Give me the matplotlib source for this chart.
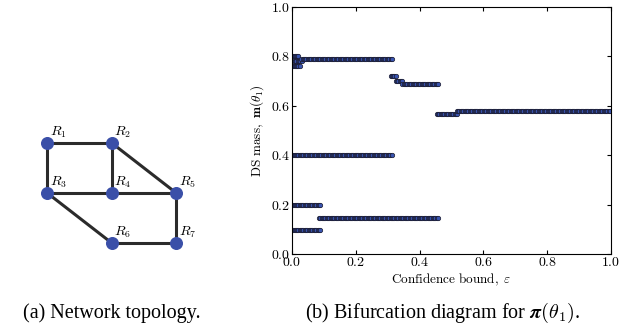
import numpy as np
import matplotlib
matplotlib.use("Agg")
import matplotlib.pyplot as plt

plt.rcParams["mathtext.fontset"] = "cm"
plt.rcParams["font.family"] = ["Liberation Serif", "DejaVu Serif"]

# --- данные: топология сети ---
node_names = ["R1", "R2", "R3", "R4", "R5", "R6", "R7"]
node_x = [0, 1, 0, 1, 2, 1, 2]
node_y = [2, 2, 1, 1, 1, 0, 0]
edges = [("R1", "R2"), ("R1", "R3"), ("R2", "R4"), ("R2", "R5"),
         ("R3", "R4"), ("R4", "R5"), ("R3", "R6"), ("R6", "R7"),
         ("R5", "R7")]

# --- данные: диаграмма бифуркации (начало, конец, уровень) ---
seg_start = [0.000, 0.006, 0.029, 0.000, 0.309, 0.325, 0.346, 0.454, 0.517,
             0.000, 0.000, 0.085, 0.000]
seg_end = [0.022, 0.032, 0.314, 0.026, 0.326, 0.348, 0.458, 0.519, 1.000,
           0.315, 0.088, 0.458, 0.088]
seg_level = [0.800, 0.780, 0.789, 0.760, 0.720, 0.700, 0.688, 0.568, 0.580,
             0.400, 0.197, 0.147, 0.098]
eps_step = 0.004

fig = plt.figure(figsize=(6.41, 3.26), dpi=100)

# (a) топология сети
ax1 = fig.add_axes([15 / 641, 1 - 268 / 326, 193.5 / 641, 150 / 326])
pos = {n: (x, y) for n, x, y in zip(node_names, node_x, node_y)}
for a, b in edges:
    ax1.plot([pos[a][0], pos[b][0]], [pos[a][1], pos[b][1]],
             color="#2b2b2b", lw=2.2, zorder=1)
ax1.scatter(node_x, node_y, s=70, color="#3a4fa8", zorder=2)
for n, x, y in zip(node_names, node_x, node_y):
    ax1.text(x + 0.04, y + 0.06, "$R_{%s}$" % n[1:], fontsize=10,
             ha="left", va="bottom")
ax1.set_xlim(-0.5, 2.5)
ax1.set_ylim(-0.5, 2.5)
ax1.axis("off")

# (b) диаграмма бифуркации
ax2 = fig.add_axes([292 / 641, 1 - 254 / 326, 319 / 641, 247 / 326])
for s, e, lv in zip(seg_start, seg_end, seg_level):
    xs = np.arange(s, e + 1e-9, eps_step)
    ax2.plot(xs, np.full_like(xs, lv), ls="none", marker="o", ms=3.2,
             mfc="#3a55b0", mec="#1a1a2e", mew=0.5)
ax2.set_xlim(0, 1)
ax2.set_ylim(0, 1)
ticks = [0.0, 0.2, 0.4, 0.6, 0.8, 1.0]
ax2.set_xticks(ticks)
ax2.set_yticks(ticks)
ax2.set_xticklabels(["$%.1f$" % t for t in ticks], fontsize=10)
ax2.set_yticklabels(["$%.1f$" % t for t in ticks], fontsize=10)
ax2.tick_params(direction="in", top=True, right=True, length=3, pad=1.5)
ax2.set_xlabel(r"$\mathrm{Confidence\ bound,}\ \varepsilon$", fontsize=9.5,
               labelpad=2)
ax2.set_ylabel(r"$\mathrm{DS\ mass,}\ \mathbf{m}(\theta_1)$", fontsize=9.5,
               labelpad=3)

fig.text(112 / 641, 1 - 313 / 326, "(a) Network topology.", fontsize=14.5,
         ha="center", va="center")
fig.text(443 / 641, 1 - 313 / 326,
         r"(b) Bifurcation diagram for $\boldsymbol{\pi}(\theta_1)$.",
         fontsize=14.5, ha="center", va="center")

fig.savefig("out.png", dpi=100)
